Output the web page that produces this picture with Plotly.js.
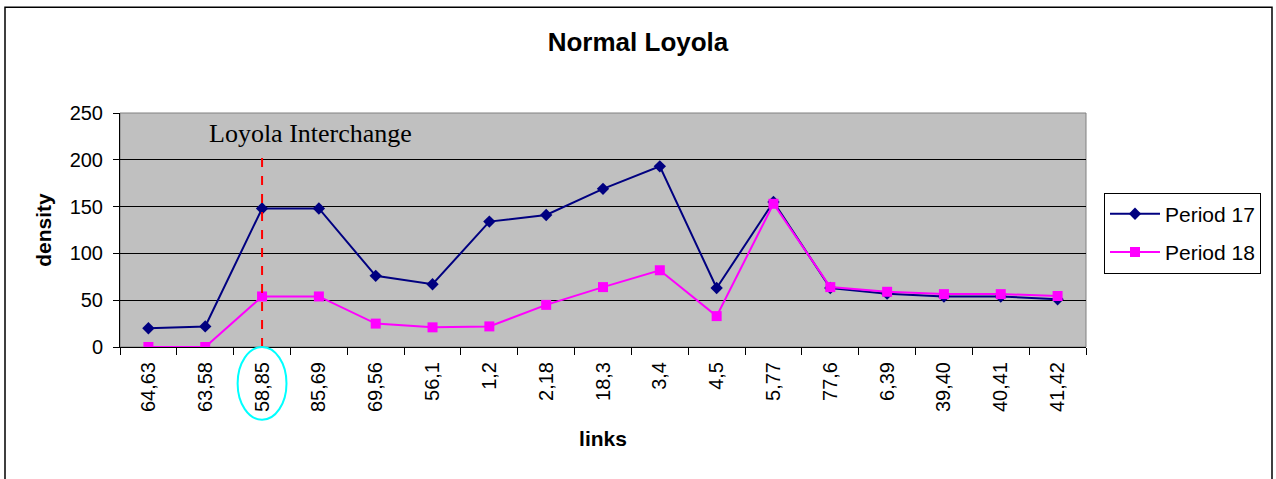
<!DOCTYPE html>
<html>
<head>
<meta charset="utf-8">
<script src="https://cdn.plot.ly/plotly-3.0.1.min.js"></script>
<style>
html,body{margin:0;padding:0;background:#fff;}
#chart{width:1276px;height:479px;}
</style>
</head>
<body>
<div id="chart"></div>
<script>
const links = ["64,63","63,58","58,85","85,69","69,56","56,1","1,2","2,18","18,3","3,4","4,5","5,77","77,6","6,39","39,40","40,41","41,42"];
const period17 = [20,22,148,148,76,67,134,141,169,193,63,155,63,57,54,54,51];
const period18 = [0,0,54,54,25,21,22,45,64,82,33,153,64,59,56.5,56.5,54.5];
const seriesNames = ["Period 17","Period 18"];
const chartTitle = "Normal Loyola";
const xTitle = "links";
const yTitle = "density";
const markerLabel = "Loyola Interchange";
const markerCategory = "58,85";
const markerTop = 204;

const markerIdx = links.indexOf(markerCategory);

const traces = [
  {
    x: links, y: period17, name: seriesNames[0], type: "scatter", mode: "lines+markers",
    legendgroup: "a",
    line: {color: "#000080", width: 2},
    marker: {symbol: "diamond", size: 9.5, color: "#000080"}
  },
  {
    x: links, y: period18, name: seriesNames[1], type: "scatter", mode: "lines+markers",
    legendgroup: "b",
    line: {color: "#FF00FF", width: 2},
    marker: {symbol: "square", size: 10, color: "#FF00FF"}
  }
];

const F = "Liberation Sans, Arial, sans-serif";

const layout = {
  width: 1276, height: 479,
  margin: {l: 120, r: 190, t: 113, b: 132},
  paper_bgcolor: "#ffffff",
  plot_bgcolor: "#C0C0C0",
  showlegend: true,
  title: {
    text: "<b>" + chartTitle + "</b>",
    font: {family: F, size: 26, color: "#000"},
    x: 0.5, xref: "container", xanchor: "center",
    y: 1 - 42/479, yref: "container", yanchor: "middle"
  },
  xaxis: {
    type: "category",
    tickson: "boundaries",
    ticks: "outside", ticklen: 7, tickcolor: "#000", tickwidth: 1,
    tickangle: -90,
    ticklabelstandoff: 6,
    tickfont: {family: F, size: 20, color: "#000"},
    showline: true, linecolor: "#000", linewidth: 1,
    showgrid: false, zeroline: false,
    range: [-0.5, links.length - 0.5],
    fixedrange: true,
    automargin: false,
    title: {text: "<b>" + xTitle + "</b>", font: {family: F, size: 21, color: "#000"}, standoff: 20}
  },
  yaxis: {
    range: [0, 250], dtick: 50, tick0: 0,
    ticks: "outside", ticklen: 6, tickcolor: "#000", tickwidth: 1,
    ticklabelstandoff: 6,
    tickfont: {family: F, size: 20, color: "#000"},
    showline: true, linecolor: "#000", linewidth: 1,
    showgrid: true, gridcolor: "#000", gridwidth: 1,
    zeroline: false,
    fixedrange: true,
    automargin: false,
    title: {text: "<b>" + yTitle + "</b>", font: {family: F, size: 21, color: "#000"}, standoff: 12}
  },
  legend: {
    x: (1104 - 120) / 966, xanchor: "left",
    y: 0.66, yanchor: "top",
    bgcolor: "#ffffff", bordercolor: "#000", borderwidth: 1,
    font: {family: F, size: 21, color: "#000"},
    traceorder: "grouped", tracegroupgap: 8,
    itemwidth: 50
  },
  shapes: [
    {type: "rect", xref: "paper", yref: "paper", x0: 0, x1: 1, y0: 0, y1: 1,
     line: {color: "#808080", width: 1}, fillcolor: "rgba(0,0,0,0)", layer: "below"},
    {type: "line", xref: "x", yref: "y", x0: markerIdx, x1: markerIdx, y0: 0, y1: markerTop,
     line: {color: "#FF0000", width: 2, dash: "dash"}},
    {type: "circle", xref: "x", yref: "paper", x0: markerIdx - 0.43, x1: markerIdx + 0.43,
     y0: -0.311, y1: 0.0, line: {color: "#00FFFF", width: 2}},
    {type: "rect", xref: "paper", yref: "paper",
     x0: (5 - 120) / 966, x1: (1272 - 120) / 966,
     y0: (346.7 - 482) / 233.3, y1: (346.7 - 8) / 233.3,
     line: {color: "#000", width: 1.5}, fillcolor: "rgba(0,0,0,0)"}
  ],
  annotations: [
    {text: markerLabel, xref: "paper", yref: "y", x: (310 - 120) / 966, y: 228,
     xanchor: "center", yanchor: "middle", showarrow: false,
     font: {family: "Liberation Serif, Times New Roman, serif", size: 26, color: "#000"}}
  ]
};

Plotly.newPlot("chart", traces, layout, {displayModeBar: false, staticPlot: true});
</script>
</body>
</html>
